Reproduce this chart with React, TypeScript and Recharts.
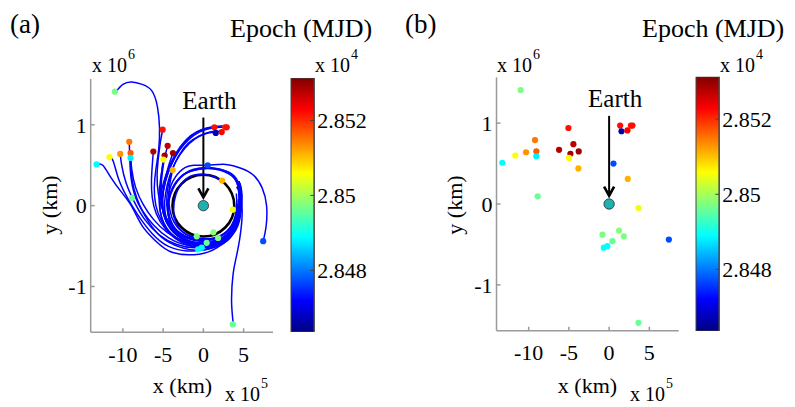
import React from "react";
import {
  ScatterChart,
  Scatter,
  XAxis,
  YAxis,
  ReferenceLine,
  ReferenceDot,
  BarChart,
  Bar,
} from "recharts";

const SERIF = '"Liberation Serif", "Times New Roman", serif';

// object positions: x in 1e5 km, y in 1e6 km, epoch in MJD
const dotX = [-11.0, -5.06, -13.28, -11.66, -10.33, -9.21, -9.05, -9.05, -8.88, -6.22, -4.81, -4.44, -3.78, -4.98, -3.82, 1.37, 1.54, 2.28, 2.7, 2.9, 0.54, 2.32, 3.65, -0.83, 1.24, 1.83, 0.41, -0.66, -0.21, 7.43, 3.65];
const dotY = [1.41, 0.94, 0.51, 0.6, 0.64, 0.79, 0.65, 0.59, 0.095, 0.67, 0.62, 0.74, 0.65, 0.57, 0.44, 0.97, 0.9, 0.91, 0.97, 0.97, 0.5, 0.31, -0.05, -0.38, -0.33, -0.4, -0.46, -0.54, -0.52, -0.44, -1.47];
const dotEpoch = [28497, 28522, 28489, 28506, 28513, 28515, 28517, 28488, 28496, 28528, 28529, 28527, 28529, 28506, 28511, 28522, 28467, 28523, 28521, 28522, 28477, 28511, 28505, 28497, 28498, 28497, 28496, 28489, 28489, 28477, 28496];

const xTicks = [-10, -5, 0, 5];
const yTicks = [-1, 0, 1];
const cbTicks = [28480, 28500, 28520];
const X_DOMAIN = [-14, 8.65];
const Y_DOMAIN = [-1.567, 1.567];
const CB_MIN = 28463.6;
const CB_MAX = 28531.3;
const MOON_ORBIT = 3.84; // 1e5 km

// trajectories: [x (1e5 km), y (1e6 km)]
const tracks: [number, number][][] = [
  [[-13.2, 0.51], [-12.5, 0.5], [-11.5, 0.35], [-10.2, 0.17], [-8.9, -0.01], [-7.6, -0.25], [-6.0, -0.43], [-3.8, -0.58], [-0.5, -0.6], [1.7, -0.52], [3.7, -0.35], [4.6, -0.13], [4.65, 0.12], [4.3, 0.22]],
  [[-11.66, 0.6], [-11.2, 0.55], [-10.5, 0.32], [-9.4, 0.09], [-8.1, -0.12], [-6.4, -0.34], [-4.4, -0.5], [-2, -0.56], [0.5, -0.54], [2.6, -0.44], [4.0, -0.26], [4.75, 0.0], [4.65, 0.24], [4.2, 0.3]],
  [[-10.33, 0.64], [-10.15, 0.5], [-9.6, 0.28], [-8.6, 0.05], [-7.3, -0.17], [-5.5, -0.36], [-3.3, -0.48], [-0.8, -0.52], [1.6, -0.46], [3.4, -0.32], [4.4, -0.08], [4.5, 0.2], [3.8, 0.37], [2, 0.45], [0, 0.46], [-2, 0.41], [-3.5, 0.26], [-4.3, 0.03], [-4.0, -0.2], [-2.8, -0.35], [-1, -0.43]],
  [[-9.21, 0.79], [-9.15, 0.6], [-9.0, 0.35], [-8.5, 0.12], [-7.6, -0.06], [-6.2, -0.24], [-4.3, -0.4], [-2, -0.49], [0.5, -0.48], [2.6, -0.39], [4.0, -0.21], [4.45, 0.05], [4.2, 0.28], [3.2, 0.41], [1, 0.47], [-1.2, 0.45], [-3, 0.34], [-4.2, 0.13], [-4.35, -0.12], [-3.4, -0.31], [-1.5, -0.42], [0.8, -0.43]],
  [[-9.05, 0.65], [-8.9, 0.45], [-8.4, 0.22], [-7.5, 0.02], [-6.2, -0.17], [-4.5, -0.33], [-2.3, -0.44], [0.2, -0.46], [2.4, -0.4], [3.9, -0.25], [4.6, 0.0], [4.45, 0.3]],
  [[-9.05, 0.59], [-8.95, 0.4], [-8.6, 0.2], [-7.9, 0.0], [-6.8, -0.2], [-5.2, -0.39], [-3, -0.51], [-0.5, -0.55], [2, -0.49], [3.6, -0.36], [4.5, -0.1], [4.7, 0.15], [4.5, 0.27]],
  [[-10.85, 1.41], [-10.0, 1.5], [-8.9, 1.53], [-7.6, 1.5], [-6.4, 1.42], [-5.7, 1.22], [-5.45, 0.96], [-5.55, 0.7], [-5.9, 0.45], [-6.1, 0.22], [-5.9, 0.0], [-5.2, -0.19], [-4, -0.35], [-2, -0.46], [0.2, -0.49], [2.3, -0.42], [3.8, -0.27], [4.5, -0.05], [4.4, 0.2], [3.5, 0.37], [1.5, 0.45], [-0.5, 0.45], [-2.5, 0.38], [-3.9, 0.2], [-4.4, -0.05], [-3.8, -0.27], [-2.2, -0.4]],
  [[-5.06, 0.94], [-5.35, 0.78], [-5.6, 0.58], [-5.75, 0.38], [-5.6, 0.15], [-5.0, -0.07], [-3.8, -0.26], [-1.9, -0.39], [0.3, -0.43], [2.3, -0.37], [3.8, -0.21], [4.45, 0.04], [4.25, 0.26]],
  [[-6.22, 0.67], [-6.35, 0.5], [-6.45, 0.3], [-6.35, 0.1], [-5.85, -0.1], [-4.7, -0.29], [-3, -0.42], [-0.8, -0.48], [1.5, -0.44], [3.3, -0.33], [4.35, -0.12], [4.6, 0.12], [4.4, 0.3]],
  [[2.9, 0.97], [2.4, 0.985], [1.2, 0.975], [0, 0.945], [-1.4, 0.87], [-2.7, 0.73], [-3.7, 0.57], [-4.5, 0.38], [-5.0, 0.18], [-5.1, -0.02], [-4.6, -0.2], [-3.4, -0.36], [-1.5, -0.46], [0.8, -0.48], [2.8, -0.39], [4.1, -0.2], [4.55, 0.05], [4.3, 0.28]],
  [[2.7, 0.97], [2.0, 0.97], [0.8, 0.955], [-0.5, 0.91], [-1.8, 0.82], [-3.0, 0.68], [-4.0, 0.5], [-4.7, 0.3], [-5.05, 0.08], [-4.8, -0.13], [-3.8, -0.31], [-2, -0.44], [0.3, -0.5], [2.4, -0.44], [3.9, -0.28], [4.6, -0.03], [4.5, 0.22]],
  [[2.28, 0.91], [1.5, 0.92], [0.3, 0.895], [-1, 0.83], [-2.3, 0.71], [-3.4, 0.55], [-4.2, 0.36], [-4.7, 0.15], [-4.8, -0.05], [-4.2, -0.25], [-2.8, -0.39], [-0.8, -0.46], [1.4, -0.45], [3.2, -0.34], [4.3, -0.13], [4.5, 0.15]],
  [[1.37, 0.97], [0.5, 0.96], [-0.8, 0.915], [-2.2, 0.81], [-3.4, 0.65], [-4.3, 0.47], [-5.0, 0.27], [-5.4, 0.05], [-5.2, -0.15], [-4.3, -0.33], [-2.6, -0.46], [-0.4, -0.52], [1.8, -0.48], [3.5, -0.36], [4.5, -0.14], [4.75, 0.12], [4.45, 0.3]],
  [[1.54, 0.9], [0.6, 0.9], [-0.6, 0.855], [-1.9, 0.77], [-3.1, 0.61], [-3.9, 0.43], [-4.4, 0.23], [-4.55, 0.01], [-4.05, -0.2], [-2.8, -0.35], [-1, -0.43], [1, -0.44], [2.8, -0.36], [4.0, -0.18], [4.35, 0.08]],
  [[-3.78, 0.65], [-4.3, 0.5], [-4.8, 0.3], [-5.1, 0.1], [-4.95, -0.1], [-4.1, -0.28], [-2.6, -0.41], [-0.6, -0.48], [1.5, -0.46], [3.3, -0.35], [4.3, -0.15], [4.55, 0.1]],
  [[-4.44, 0.74], [-4.9, 0.56], [-5.3, 0.34], [-5.5, 0.11], [-5.25, -0.12], [-4.3, -0.31], [-2.7, -0.44], [-0.5, -0.51], [1.8, -0.47], [3.5, -0.34], [4.4, -0.11], [4.65, 0.18]],
  [[-4.81, 0.62], [-5.05, 0.45], [-5.25, 0.25], [-5.2, 0.03], [-4.7, -0.17], [-3.5, -0.34], [-1.6, -0.45], [0.6, -0.49], [2.7, -0.42], [4.1, -0.25], [4.7, 0.02], [4.55, 0.25]],
  [[-4.98, 0.57], [-5.2, 0.4], [-5.3, 0.2], [-5.1, 0.0], [-4.4, -0.2], [-3.1, -0.36], [-1.2, -0.45], [1, -0.46], [2.9, -0.38], [4.2, -0.2], [4.65, 0.05], [4.5, 0.28]],
  [[-3.82, 0.44], [-4.2, 0.25], [-4.3, 0.05], [-3.9, -0.15], [-2.9, -0.3], [-1.2, -0.4], [0.8, -0.42], [2.6, -0.35], [3.8, -0.2], [4.3, 0.02]],
  [[7.43, -0.44], [7.8, -0.25], [7.85, 0.0], [7.3, 0.22], [6.2, 0.38], [4.75, 0.46], [2.8, 0.51], [0.54, 0.5], [-1.2, 0.5], [-2.6, 0.45], [-3.8, 0.3], [-4.4, 0.08], [-4.2, -0.15], [-3.2, -0.32], [-1.5, -0.42]],
  [[3.72, -1.47], [3.5, -1.17], [3.7, -0.84], [4.1, -0.63], [4.5, -0.42], [4.75, -0.22], [4.8, -0.02], [4.5, 0.17], [4.1, 0.23]],
  [[2.32, 0.31], [1, 0.37], [-0.8, 0.385], [-2.4, 0.31], [-3.4, 0.14], [-3.7, -0.06], [-3.2, -0.25], [-1.8, -0.37], [0.2, -0.41], [2.1, -0.37], [3.5, -0.24], [4.1, -0.05], [4.1, 0.15]],
];

const dots = dotX.map((x, i) => ({ x, y: dotY[i], epoch: dotEpoch[i] }));
const earth = [{ x: 0, y: 0 }];
const cbData = [{ name: "epoch", range: [CB_MIN, CB_MAX] }];

function jet(v: number) {
  const t = Math.min(1, Math.max(0, (v - CB_MIN) / (CB_MAX - CB_MIN)));
  const c = (d: number) => Math.round(255 * Math.min(1, Math.max(0, 1.5 - Math.abs(4 * t - d))));
  return `rgb(${c(3)},${c(2)},${c(1)})`;
}

const tickStyle = { fontSize: 22, fill: "#000", fontFamily: SERIF };
const axisStroke = { stroke: "#9a9a9a", strokeWidth: 1.5 };

const EarthArrow = (props: any) => {
  const { x1, y1, x2, y2 } = props;
  return (
    <g>
      <line x1={x1} y1={y1} x2={x2} y2={y2 - 2} stroke="#000" strokeWidth={2} />
      <polyline points={`${x2 - 5},${y2 - 10} ${x2},${y2 - 1} ${x2 + 5},${y2 - 10}`} fill="none" stroke="#000" strokeWidth={2.6} />
      <text x={x2 + 6} y={y1 - 9} textAnchor="middle" fontFamily={SERIF} fontSize={25} fill="#000">Earth</text>
    </g>
  );
};

type Plot = { chartLeft: number; l: number; t: number; r: number; b: number };

function Panel({ plot, withTracks }: { plot: Plot; withTracks: boolean }) {
  const W = 290;
  const H = 407;
  const pxPerX = (plot.r - plot.l) / (X_DOMAIN[1] - X_DOMAIN[0]);
  return (
    <div style={{ position: "absolute", left: plot.chartLeft, top: 0 }}>
      <ScatterChart
        width={W}
        height={H}
        margin={{ top: plot.t, left: plot.l - plot.chartLeft - 40, right: plot.chartLeft + W - plot.r, bottom: H - plot.b - 40 }}
      >
        <XAxis type="number" dataKey="x" domain={X_DOMAIN} ticks={xTicks} interval={0} allowDataOverflow height={40} tick={tickStyle} axisLine={axisStroke} tickLine={axisStroke} tickSize={-4} tickMargin={18} />
        <YAxis type="number" dataKey="y" domain={Y_DOMAIN} ticks={yTicks} interval={0} allowDataOverflow width={40} tick={tickStyle} axisLine={axisStroke} tickLine={axisStroke} tickSize={-4} tickMargin={8} />
        {withTracks && (
          <ReferenceDot x={0} y={0} r={MOON_ORBIT * pxPerX} fill="none" stroke="#000" strokeWidth={2.6} ifOverflow="visible" />
        )}
        {withTracks &&
          tracks.map((tr, i) => (
            <Scatter
              key={`tr-${i}`}
              data={tr.map(([x, y]) => ({ x, y }))}
              line={{ stroke: "#0000ff", strokeWidth: 1.5 }}
              lineJointType="natural"
              shape={() => <g />}
              isAnimationActive={false}
            />
          ))}
        <Scatter
          data={dots}
          isAnimationActive={false}
          shape={(p: any) => <circle cx={p.cx} cy={p.cy} r={3.1} fill={jet(p.payload.epoch)} />}
        />
        <Scatter
          data={earth}
          isAnimationActive={false}
          shape={(p: any) => <circle cx={p.cx} cy={p.cy} r={5.2} fill="#1fb0b0" stroke="#2b2b2b" strokeWidth={0.8} />}
        />
        <ReferenceLine segment={[{ x: 0, y: 1.09 }, { x: 0, y: 0.09 }]} shape={EarthArrow} ifOverflow="visible" />
      </ScatterChart>
    </div>
  );
}

function ColorBar({ left, top, bottom }: { left: number; top: number; bottom: number }) {
  const W = 110;
  const H = 407;
  return (
    <div style={{ position: "absolute", left: left - 11, top: 0 }}>
      <BarChart width={W} height={H} data={cbData} margin={{ top, left: 11, right: W - 11 - 23.3 - 60, bottom: H - bottom }} barCategoryGap={0} barGap={0}>
        <XAxis dataKey="name" hide />
        <YAxis orientation="right" type="number" domain={[CB_MIN, CB_MAX]} ticks={cbTicks} interval={0} allowDataOverflow width={60} tick={tickStyle} tickFormatter={(v: number) => String(v / 1e4)} axisLine={{ stroke: "#444", strokeWidth: 1 }} tickLine={{ stroke: "#444" }} tickSize={-4} tickMargin={7} />
        <Bar dataKey="range" fill="url(#jetGrad)" stroke="#444" strokeWidth={1} isAnimationActive={false} />
      </BarChart>
    </div>
  );
}

const T = (p: { x: number; y: number; size?: number; children: React.ReactNode; anchor?: string; transform?: string }) => (
  <text x={p.x} y={p.y} fontSize={p.size ?? 22} fontFamily={SERIF} fill="#000" textAnchor={p.anchor as any} transform={p.transform}>
    {p.children}
  </text>
);

// "x 10" with a raised exponent
const Pow = ({ x, y, exp }: { x: number; y: number; exp: string }) => (
  <g>
    <T x={x} y={y} size={20}>x 10</T>
    <T x={x + 36} y={y - 13} size={14}>{exp}</T>
  </g>
);

function Labels({ dx, sub, subX, epochX }: { dx: number; sub: string; subX: number; epochX: number }) {
  return (
    <g>
      <T x={subX} y={33} size={27}>{sub}</T>
      <T x={epochX} y={37} size={26}>Epoch (MJD)</T>
      <Pow x={92 + dx} y={72} exp="6" />
      <Pow x={315 + dx} y={72} exp="4" />
      <Pow x={225 + dx} y={401} exp="5" />
      <T x={182.5 + dx} y={393} anchor="middle">x (km)</T>
      <T x={0} y={0} anchor="middle" transform={`translate(${57 + dx},205) rotate(-90)`}>y (km)</T>
    </g>
  );
}

const jetStops = [0, 0.125, 0.375, 0.625, 0.875, 1];

export default function App() {
  return (
    <div style={{ position: "absolute", left: 0, top: 0, width: 795, height: 407, background: "#fff", overflow: "hidden" }}>
      <svg width={0} height={0} style={{ position: "absolute" }}>
        <defs>
          <linearGradient id="jetGrad" x1="0" y1="1" x2="0" y2="0">
            {jetStops.map((s) => (
              <stop key={s} offset={s} stopColor={jet(CB_MIN + s * (CB_MAX - CB_MIN))} />
            ))}
          </linearGradient>
        </defs>
      </svg>
      <Panel plot={{ chartLeft: 0, l: 90.7, t: 79, r: 273, b: 332.3 }} withTracks />
      <Panel plot={{ chartLeft: 406, l: 496.5, t: 77.3, r: 678.7, b: 330.7 }} withTracks={false} />
      <ColorBar left={291} top={78} bottom={332} />
      <ColorBar left={696} top={76.7} bottom={331} />
      <svg width={795} height={407} style={{ position: "absolute", left: 0, top: 0, pointerEvents: "none" }}>
        <Labels dx={0} sub="(a)" subX={10} epochX={230} />
        <Labels dx={405} sub="(b)" subX={405} epochX={642} />
      </svg>
    </div>
  );
}
